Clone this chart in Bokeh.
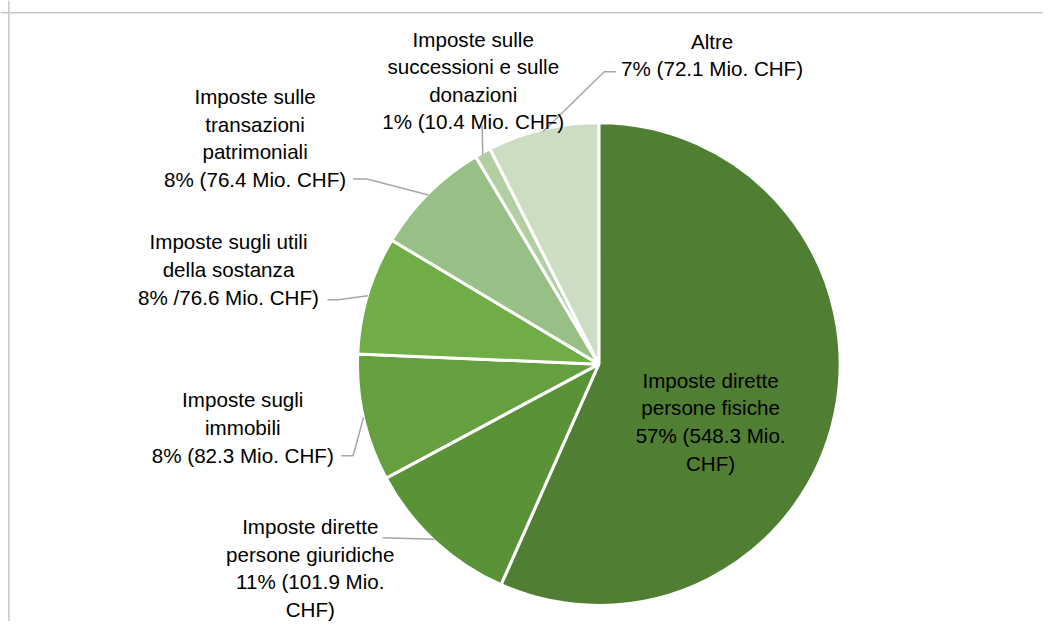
import numpy as np
from bokeh.plotting import figure
from bokeh.models import Range1d, Span, ColumnDataSource
from bokeh.core.properties import value
from bokeh.embed import file_html
from bokeh.resources import INLINE

# ---- data ----
categories = [
    "Imposte dirette persone fisiche",
    "Imposte dirette persone giuridiche",
    "Imposte sugli immobili",
    "Imposte sugli utili della sostanza",
    "Imposte sulle transazioni patrimoniali",
    "Imposte sulle successioni e sulle donazioni",
    "Altre",
]
values = [548.3, 101.9, 82.3, 76.6, 76.4, 10.4, 72.1]
labels = [
    "Imposte dirette\npersone fisiche\n57% (548.3 Mio.\nCHF)",
    "Imposte dirette\npersone giuridiche\n11% (101.9 Mio.\nCHF)",
    "Imposte sugli\nimmobili\n8% (82.3 Mio. CHF)",
    "Imposte sugli utili\ndella sostanza\n8% /76.6 Mio. CHF)",
    "Imposte sulle\ntransazioni\npatrimoniali\n8% (76.4 Mio. CHF)",
    "Imposte sulle\nsuccessioni e sulle\ndonazioni\n1% (10.4 Mio. CHF)",
    "Altre\n7% (72.1 Mio. CHF)",
]
colors = ["#507E32", "#5A9238", "#669F40", "#70AD47", "#98BF86", "#B2CFA3", "#CCDDC4"]

# ---- layout (reference-frame pixel coordinates) ----
W, H = 1043, 621
REF_W, REF_H = 1059, 637


def Y(py):
    return REF_H - py


cx, cy, R = 607.5, Y(373), 245

label_x = [721, 314.5, 246, 231.5, 258.5, 480, 722.5]
label_y = [Y(432), Y(582), Y(438), Y(276), Y(141), Y(82), Y(56)]

# leader line label-side points (reference coords), None for inside label
leader_pts = [
    None,
    [(388, 551)],
    [(346, 467), (358, 467)],
    [(332, 307), (343, 307)],
    [(358, 183), (372, 183)],
    [(489, 128)],
    [(625, 73), (613, 73)],
]

total = sum(values)
fr = np.array(values) / total
cum = np.concatenate([[0.0], np.cumsum(fr)]) * 2 * np.pi
start = np.pi / 2 - cum[:-1]
end = np.pi / 2 - cum[1:]
mid = (cum[:-1] + cum[1:]) / 2

p = figure(width=W, height=H, output_backend="svg", toolbar_location=None,
           x_range=Range1d(0, REF_W), y_range=Range1d(0, REF_H),
           min_border=0, min_border_left=0, min_border_right=0,
           min_border_top=0, min_border_bottom=0)
p.axis.visible = False
p.grid.visible = False
p.outline_line_color = None
p.background_fill_color = "white"
p.border_fill_color = "white"

# chart border (left and top visible)
p.add_layout(Span(location=8.5, dimension="height", line_color="#C8C8C8", line_width=1.5))
p.add_layout(Span(location=Y(12.5), dimension="width", line_color="#C8C8C8", line_width=1.5))

src = ColumnDataSource(dict(cat=categories, val=values, start=start, end=end, color=colors))
p.wedge(x=cx, y=cy, radius=R, start_angle="start", end_angle="end", direction="clock",
        fill_color="color", line_color="white", line_width=3, source=src)

# leader lines
xs, ys = [], []
for i, pts in enumerate(leader_pts):
    if pts is None:
        continue
    ax = cx + R * np.sin(mid[i])
    ay = cy + R * np.cos(mid[i])
    xs.append([q[0] for q in pts] + [ax])
    ys.append([Y(q[1]) for q in pts] + [ay])
p.multi_line(xs=xs, ys=ys, line_color="#A6A6A6", line_width=1.5)

p.text(x=label_x, y=label_y, text=labels, text_align="center", text_baseline="middle",
       text_font=value("Liberation Sans"), text_font_size="20.6px", text_color="#000000",
       text_line_height=1.2)

open("out.html", "w").write(file_html(p, INLINE))
